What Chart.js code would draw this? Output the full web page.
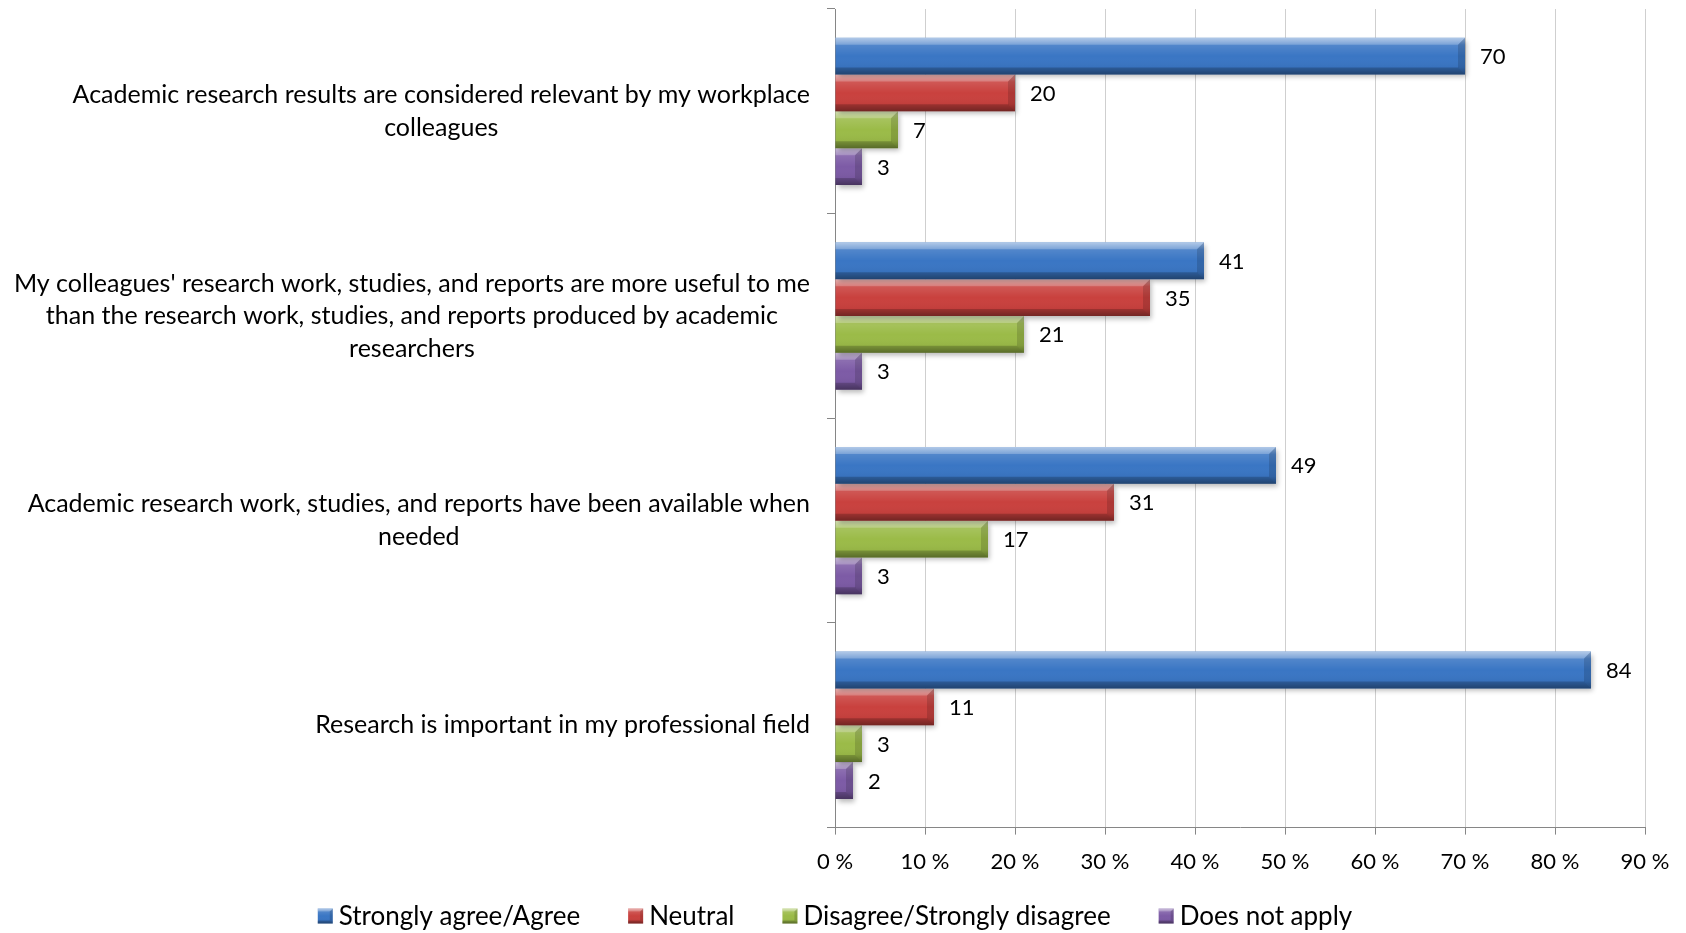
<!DOCTYPE html>
<html>
<head>
<meta charset="utf-8">
<script src="https://cdn.jsdelivr.net/npm/chart.js@4"></script>
<style>
  body { margin: 0; background: #fff; }
  #wrap { width: 1686px; height: 933px; }
</style>
</head>
<body>
<div id="wrap"><canvas id="grafico" width="1686" height="933"></canvas></div>
<script>
// Dados
const categorias = [
  ["Academic research results are considered relevant by my workplace", "colleagues"],
  ["My colleagues' research work, studies, and reports are more useful to me", "than the research work, studies, and reports produced by academic", "researchers"],
  ["Academic research work, studies, and reports have been available when", "needed"],
  ["Research is important in my professional field"]
];
const series = ["Strongly agree/Agree", "Neutral", "Disagree/Strongly disagree", "Does not apply"];
const concordo = [70, 41, 49, 84];
const neutro = [20, 35, 31, 11];
const discordo = [7, 21, 17, 3];
const naoAplica = [3, 3, 3, 2];
const cores = ["#3a76c4", "#c9413e", "#9bbb48", "#7d5ba6"];
const sufixoTick = " %";

const fonte = "Lato, 'Open Sans', sans-serif";
const tamFonte = 22;
const tamCategoria = 25;
const tamLegenda = 26;

// gradiente vertical "3D" para um retângulo
function pintarBisel(c, l, t, r, b, bv) {
  const g = c.createLinearGradient(0, t, 0, b);
  g.addColorStop(0, "rgba(255,255,255,0.5)");
  g.addColorStop(0.2, "rgba(255,255,255,0.12)");
  g.addColorStop(0.5, "rgba(255,255,255,0)");
  g.addColorStop(0.8, "rgba(0,0,0,0.04)");
  g.addColorStop(1, "rgba(0,0,0,0.3)");
  c.fillStyle = g;
  c.fillRect(l, t, r - l, b - t);
  // bisel superior
  c.fillStyle = "rgba(255,255,255,0.22)";
  c.beginPath();
  c.moveTo(l, t); c.lineTo(r, t); c.lineTo(r - bv, t + bv); c.lineTo(l, t + bv);
  c.closePath(); c.fill();
  // bisel inferior
  c.fillStyle = "rgba(0,0,0,0.18)";
  c.beginPath();
  c.moveTo(l, b - bv); c.lineTo(r - bv, b - bv); c.lineTo(r, b); c.lineTo(l, b);
  c.closePath(); c.fill();
  // bisel da ponta
  c.fillStyle = "rgba(0,0,0,0.14)";
  c.beginPath();
  c.moveTo(r - bv, t + bv); c.lineTo(r, t); c.lineTo(r, b); c.lineTo(r - bv, b - bv);
  c.closePath(); c.fill();
}

const visualBarras = {
  id: "visualBarras",
  beforeDatasetDraw(chart) {
    const c = chart.ctx;
    c.save();
    c.shadowColor = "rgba(0,0,0,0.28)";
    c.shadowBlur = 5;
    c.shadowOffsetX = 2;
    c.shadowOffsetY = 3;
  },
  afterDatasetDraw(chart, args) {
    const c = chart.ctx;
    c.restore();
    c.save();
    args.meta.data.forEach(bar => {
      const p = bar.getProps(["x", "y", "base", "height"], true);
      const l = Math.min(p.base, p.x), r = Math.max(p.base, p.x);
      pintarBisel(c, l, p.y - p.height / 2, r, p.y + p.height / 2, Math.min(7, (r - l) / 2));
    });
    c.restore();
  },
  afterDatasetsDraw(chart) {
    // rótulos dos valores
    const c = chart.ctx;
    c.save();
    c.font = tamFonte + "px " + fonte;
    c.fillStyle = "#000";
    c.textAlign = "left";
    c.textBaseline = "middle";
    chart.data.datasets.forEach((ds, i) => {
      chart.getDatasetMeta(i).data.forEach((bar, j) => {
        c.fillText(String(ds.data[j]), bar.x + 15, bar.y + 1);
      });
    });
    c.restore();
  },
  afterDraw(chart) {
    const c = chart.ctx;
    const eixoY = chart.scales.y;
    c.save();
    // rótulos das categorias (linhas centradas, bloco alinhado à direita)
    c.font = tamCategoria + "px " + fonte;
    c.fillStyle = "#000";
    c.textAlign = "center";
    c.textBaseline = "middle";
    const alturaLinha = 32.5;
    const direita = chart.chartArea.left - 25;
    categorias.forEach((linhas, i) => {
      const y = eixoY.getPixelForValue(i);
      const larg = Math.max(...linhas.map(s => c.measureText(s).width));
      const cx = direita - larg / 2;
      const y0 = y - (linhas.length - 1) * alturaLinha / 2;
      linhas.forEach((s, k) => c.fillText(s, cx, y0 + k * alturaLinha));
    });

    // legenda
    c.font = tamLegenda + "px " + fonte;
    c.textAlign = "left";
    const caixa = 15, vao = 6, espaco = 48;
    const largs = series.map(s => c.measureText(s).width);
    const total = largs.reduce((a, w) => a + caixa + vao + w, 0) + espaco * (series.length - 1);
    let x = chart.width / 2 - 8 - total / 2;
    const yLeg = 916;
    series.forEach((s, i) => {
      c.fillStyle = cores[i];
      c.fillRect(x, yLeg - caixa / 2, caixa, caixa);
      pintarBisel(c, x, yLeg - caixa / 2, x + caixa, yLeg + caixa / 2, 3);
      c.fillStyle = "#000";
      c.fillText(s, x + caixa + vao, yLeg + 1);
      x += caixa + vao + largs[i] + espaco;
    });
    c.restore();
  }
};

const ctx = document.getElementById("grafico").getContext("2d");

const grafico = new Chart(ctx, {
  type: "bar",
  data: {
    labels: categorias,
    datasets: [concordo, neutro, discordo, naoAplica].map((d, i) => ({
      label: series[i],
      data: d,
      backgroundColor: cores[i],
      borderWidth: 0,
      categoryPercentage: 0.72,
      barPercentage: 1
    }))
  },
  options: {
    indexAxis: "y",
    responsive: false,
    animation: false,
    layout: { padding: { top: 9, right: 41, bottom: 44, left: 0 } },
    scales: {
      x: {
        min: 0,
        max: 90,
        ticks: {
          stepSize: 10,
          color: "#000",
          padding: 14,
          font: { family: fonte, size: tamFonte },
          maxRotation: 0,
          callback: v => v + sufixoTick
        },
        grid: { color: "#cfcfcf", lineWidth: 1, tickLength: 7, tickColor: "#868686" },
        border: { color: "#868686", width: 1 }
      },
      y: {
        ticks: { display: false },
        grid: { drawOnChartArea: false, offset: true, tickLength: 8, tickColor: "#868686" },
        border: { color: "#868686", width: 1 },
        afterFit(scale) { scale.width = 835; }
      }
    },
    plugins: {
      legend: { display: false },
      tooltip: { enabled: false }
    }
  },
  plugins: [visualBarras]
});
</script>
</body>
</html>
